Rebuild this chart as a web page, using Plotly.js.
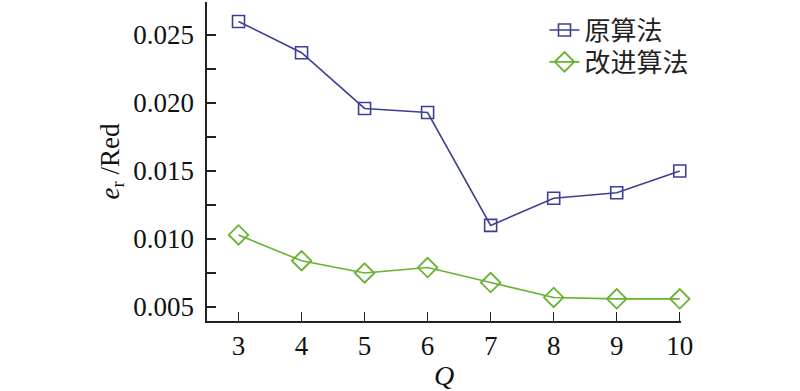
<!DOCTYPE html>
<html>
<head>
<meta charset="utf-8">
<script src="https://cdn.plot.ly/plotly-3.0.1.min.js"></script>
<style>html,body{margin:0;padding:0;background:#fff;}#chart{width:800px;height:391px;}</style>
</head>
<body>
<div id="chart"></div>
<script>
const Q = [3, 4, 5, 6, 7, 8, 9, 10];
const originalAlg = [0.0260, 0.0237, 0.0196, 0.0193, 0.0110, 0.0130, 0.0134, 0.0150];
const improvedAlg = [0.0103, 0.0084, 0.0075, 0.0079, 0.0068, 0.0057, 0.0056, 0.0056];
const seriesNames = ['原算法', '改进算法'];
const xTicks = [3, 4, 5, 6, 7, 8, 9, 10];
const yTicks = [0.005, 0.010, 0.015, 0.020, 0.025];
const yTickText = ['0.005', '0.010', '0.015', '0.020', '0.025'];

const data = [
  {x: Q, y: originalAlg, name: seriesNames[0], type: 'scatter', mode: 'lines+markers',
   line: {color: '#3d3f94', width: 1.6},
   marker: {symbol: 'square-open', size: 12, color: '#3d3f94', line: {width: 1.6}},
   cliponaxis: false, legend: 'legend'},
  {x: Q, y: improvedAlg, name: seriesNames[1], type: 'scatter', mode: 'lines+markers',
   line: {color: '#67b232', width: 1.6},
   marker: {symbol: 'diamond-open', size: 15, color: '#67b232', line: {width: 1.8}},
   cliponaxis: false, legend: 'legend2'}
];

const serif = 'Liberation Serif';
const legFont = {family: 'Noto Sans CJK SC', size: 26, color: '#222'};
const layout = {
  width: 800, height: 391,
  margin: {l: 207, r: 119, t: 2, b: 70},
  paper_bgcolor: '#fff', plot_bgcolor: '#fff',
  font: {family: serif, size: 27, color: '#111'},
  showlegend: true,
  legend: {x: 0.712, y: 0.912, xanchor: 'left', yanchor: 'middle',
           font: legFont, bgcolor: 'rgba(0,0,0,0)', itemwidth: 30},
  legend2: {x: 0.712, y: 0.812, xanchor: 'left', yanchor: 'middle',
           font: legFont, bgcolor: 'rgba(0,0,0,0)', itemwidth: 30},
  xaxis: {range: [2.5, 10.02], tickvals: xTicks, ticktext: xTicks.map(String),
          ticks: 'inside', ticklen: 9, tickwidth: 1.5, tickcolor: '#222',
          showline: true, linecolor: '#222', linewidth: 1.6, showgrid: false, zeroline: false,
          tickfont: {family: serif, size: 27, color: '#111'},
          title: {text: '<i>Q</i>', font: {family: serif, size: 28, color: '#111'}, standoff: 2}},
  yaxis: {range: [0.00397, 0.02743], tickvals: yTicks, ticktext: yTickText,
          ticks: 'inside', ticklen: 9, tickwidth: 1.5, tickcolor: '#222',
          minor: {ticks: 'inside', dtick: 0.0025, tick0: 0.0025, ticklen: 9, tickwidth: 1.5, tickcolor: '#222', showgrid: false},
          showline: true, linecolor: '#222', linewidth: 1.6, showgrid: false, zeroline: false,
          ticklabelstandoff: 6,
          tickfont: {family: serif, size: 27, color: '#111'},
          title: {text: '<i>e</i><sub>r</sub> /Red', font: {family: serif, size: 27, color: '#111'}, standoff: 6}}
};

Plotly.newPlot('chart', data, layout, {displayModeBar: false, staticPlot: true});
</script>
</body>
</html>
